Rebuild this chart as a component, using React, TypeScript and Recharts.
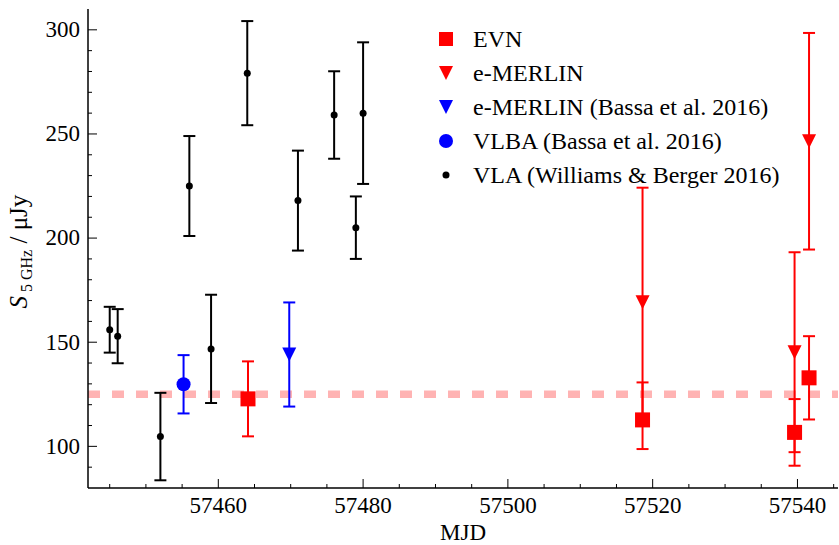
// Radio light curve: S(5 GHz) vs MJD with error bars, recharts scatter
import React from 'react'
import { ScatterChart, Scatter, XAxis, YAxis, ErrorBar, ReferenceLine, Legend, Label } from 'recharts'

// EVN (red squares)
const evnMjd = [57464.1, 57518.6, 57539.6, 57541.6]
const evnFlux = [122.8, 112.7, 106.7, 132.9]
const evnErrLow = [18, 14, 16, 20]
const evnErrHigh = [18, 18, 16, 20]

// e-MERLIN (red triangles)
const merlinMjd = [57518.6, 57539.6, 57541.6]
const merlinFlux = [169.2, 145.2, 246.5]
const merlinErr = [55, 48, 52]

// e-MERLIN, Bassa et al. 2016 (blue triangle)
const bassaMerlinMjd = [57469.8]
const bassaMerlinFlux = [144.1]
const bassaMerlinErr = [25]

// VLBA, Bassa et al. 2016 (blue circle)
const vlbaMjd = [57455.2]
const vlbaFlux = [129.8]
const vlbaErr = [14]

// VLA, Williams & Berger 2016 (black dots)
const vlaMjd = [57445.0, 57446.1, 57452.0, 57456.0, 57459.0, 57464.0, 57471.0, 57476.0, 57479.0, 57480.0]
const vlaFlux = [156.0, 152.9, 104.7, 225.0, 146.8, 279.2, 218.0, 259.1, 205.0, 260.0]
const vlaErr = [11, 13, 21, 24, 26, 25, 24, 21, 15, 34]

const refLevel = 125

const xMajor = [57460, 57480, 57500, 57520, 57540]
const xTicks = [57445, 57450, 57455, 57460, 57465, 57470, 57475, 57480, 57485, 57490, 57495, 57500,
  57505, 57510, 57515, 57520, 57525, 57530, 57535, 57540, 57545]
const yMajor = [100, 150, 200, 250, 300]
const yTicks = [90, 100, 110, 120, 130, 140, 150, 160, 170, 180, 190, 200, 210, 220, 230, 240, 250,
  260, 270, 280, 290, 300]

const FONT = '"Liberation Serif", "DejaVu Serif", serif'
const RED = '#ff0000'
const BLUE = '#0000ff'

const rows = (x: number[], y: number[], lo: number[], hi: number[]) =>
  x.map((v, i) => ({ x: v, y: y[i], err: [lo[i], hi[i]] }))

const evn = rows(evnMjd, evnFlux, evnErrLow, evnErrHigh)
const merlin = rows(merlinMjd, merlinFlux, merlinErr, merlinErr)
const bassaMerlin = rows(bassaMerlinMjd, bassaMerlinFlux, bassaMerlinErr, bassaMerlinErr)
const vlba = rows(vlbaMjd, vlbaFlux, vlbaErr, vlbaErr)
const vla = rows(vlaMjd, vlaFlux, vlaErr, vlaErr)

// marker shapes
const square = (c: string, s: number) => (p: any) =>
  <rect x={p.cx - s / 2} y={p.cy - s / 2} width={s} height={s} fill={c} />
const triDown = (c: string, s: number) => (p: any) =>
  <polygon points={`${p.cx - s / 2},${p.cy - s / 2} ${p.cx + s / 2},${p.cy - s / 2} ${p.cx},${p.cy + s / 2}`} fill={c} />
const dot = (c: string, r: number) => (p: any) => <circle cx={p.cx} cy={p.cy} r={r} fill={c} />

const legendItems = [
  { label: 'EVN', shape: square(RED, 14) },
  { label: 'e-MERLIN', shape: triDown(RED, 14) },
  { label: 'e-MERLIN (Bassa et al. 2016)', shape: triDown(BLUE, 14) },
  { label: 'VLBA (Bassa et al. 2016)', shape: dot(BLUE, 7) },
  { label: 'VLA (Williams & Berger 2016)', shape: dot('#000', 3.5) },
]

function renderLegend() {
  return (
    <div style={{ fontFamily: FONT, fontSize: 24, color: '#000' }}>
      {legendItems.map((it) => (
        <div key={it.label} style={{ display: 'flex', alignItems: 'center', height: 34 }}>
          <svg width={32} height={34}>{it.shape({ cx: 16, cy: 17 })}</svg>
          <span style={{ marginLeft: 11, lineHeight: '34px', whiteSpace: 'nowrap' }}>{it.label}</span>
        </div>
      ))}
    </div>
  )
}

// inward ticks, minor ones shorter
const BottomTick = (p: any) => {
  const major = xMajor.includes(p.payload.value)
  return (
    <g>
      <line x1={p.x} x2={p.x} y1={p.y} y2={p.y - (major ? 9 : 4)} stroke="#000" strokeWidth={1} />
      {major && <text x={p.x} y={p.y + 25} textAnchor="middle" fontFamily={FONT} fontSize={23} fill="#000">{p.payload.value}</text>}
    </g>
  )
}
const TopTick = (p: any) => {
  const major = xMajor.includes(p.payload.value)
  return <line x1={p.x} x2={p.x} y1={p.y} y2={p.y + (major ? 9 : 4)} stroke="#000" strokeWidth={1} />
}
const LeftTick = (p: any) => {
  const major = yMajor.includes(p.payload.value)
  return (
    <g>
      <line x1={p.x} x2={p.x + (major ? 9 : 4)} y1={p.y} y2={p.y} stroke="#000" strokeWidth={1} />
      {major && <text x={p.x - 8} y={p.y} dy="0.32em" textAnchor="end" fontFamily={FONT} fontSize={23} fill="#000">{p.payload.value}</text>}
    </g>
  )
}
const RightTick = (p: any) => {
  const major = yMajor.includes(p.payload.value)
  return <line x1={p.x} x2={p.x - (major ? 9 : 4)} y1={p.y} y2={p.y} stroke="#000" strokeWidth={1} />
}

// rotated y label, reads bottom-to-top starting near the lower part of the axis
const YLabel = (p: any) => {
  const vb = p.viewBox || { x: 0, y: 9, width: 88, height: 479 }
  const bx = vb.x + 27
  const by = vb.y + vb.height / 2 + 60
  return (
    <text x={bx} y={by} transform={`rotate(-90 ${bx} ${by})`} textAnchor="start" fontFamily={FONT} fontSize={25} fill="#000">
      <tspan fontStyle="italic">S</tspan>
      <tspan fontSize={16} dy={5}>{' 5 GHz'}</tspan>
      <tspan dy={-5}>{' / μJy'}</tspan>
    </text>
  )
}
const XLabel = (p: any) => {
  const vb = p.viewBox || { x: 88, y: 488, width: 750, height: 57 }
  return (
    <text x={vb.x + vb.width / 2} y={vb.y + 52} textAnchor="middle" fontFamily={FONT} fontSize={23} fill="#000">MJD</text>
  )
}

const axisLine = { stroke: '#000', strokeWidth: 1.5 }

export default function App() {
  return (
    <div>
      <style>{'body{margin:0}'}</style>
      <ScatterChart width={839} height={545} margin={{ top: 9, right: 1, bottom: 0, left: 0 }}>
        <XAxis type="number" dataKey="x" domain={[57442, 57545.6]} ticks={xTicks} interval={0}
          allowDataOverflow height={57} tickSize={0} tickMargin={0} tickLine={false}
          tick={BottomTick} axisLine={axisLine}>
          <Label content={XLabel} />
        </XAxis>
        <XAxis xAxisId="top" orientation="top" type="number" domain={[57442, 57545.6]} ticks={xTicks}
          interval={0} allowDataOverflow height={0} tickSize={0} tickMargin={0} tickLine={false}
          tick={TopTick} axisLine={axisLine} />
        <YAxis type="number" dataKey="y" domain={[80, 310]} ticks={yTicks} interval={0}
          allowDataOverflow width={88} tickSize={0} tickMargin={0} tickLine={false}
          tick={LeftTick} axisLine={axisLine}>
          <Label content={YLabel} />
        </YAxis>
        <YAxis yAxisId="right" orientation="right" type="number" domain={[80, 310]} ticks={yTicks}
          interval={0} allowDataOverflow width={0} tickSize={0} tickMargin={0} tickLine={false}
          tick={RightTick} axisLine={axisLine} />
        <ReferenceLine y={refLevel} stroke="#ffb3b3" strokeWidth={7.5} strokeDasharray="12 12" />
        <Scatter data={vla} shape={dot('#000', 3.5)} isAnimationActive={false}>
          <ErrorBar dataKey="err" direction="y" width={6} strokeWidth={2} stroke="#000" isAnimationActive={false} />
        </Scatter>
        <Scatter data={vlba} shape={dot(BLUE, 7)} isAnimationActive={false}>
          <ErrorBar dataKey="err" direction="y" width={6} strokeWidth={2} stroke={BLUE} isAnimationActive={false} />
        </Scatter>
        <Scatter data={bassaMerlin} shape={triDown(BLUE, 14)} isAnimationActive={false}>
          <ErrorBar dataKey="err" direction="y" width={6} strokeWidth={2} stroke={BLUE} isAnimationActive={false} />
        </Scatter>
        <Scatter data={merlin} shape={triDown(RED, 14)} isAnimationActive={false}>
          <ErrorBar dataKey="err" direction="y" width={6} strokeWidth={2} stroke={RED} isAnimationActive={false} />
        </Scatter>
        <Scatter data={evn} shape={square(RED, 15)} isAnimationActive={false}>
          <ErrorBar dataKey="err" direction="y" width={6} strokeWidth={2} stroke={RED} isAnimationActive={false} />
        </Scatter>
        <Legend layout="vertical" align="center" verticalAlign="middle" content={renderLegend}
          wrapperStyle={{ left: 430, top: 22, width: 370 }} />
      </ScatterChart>
    </div>
  )
}
